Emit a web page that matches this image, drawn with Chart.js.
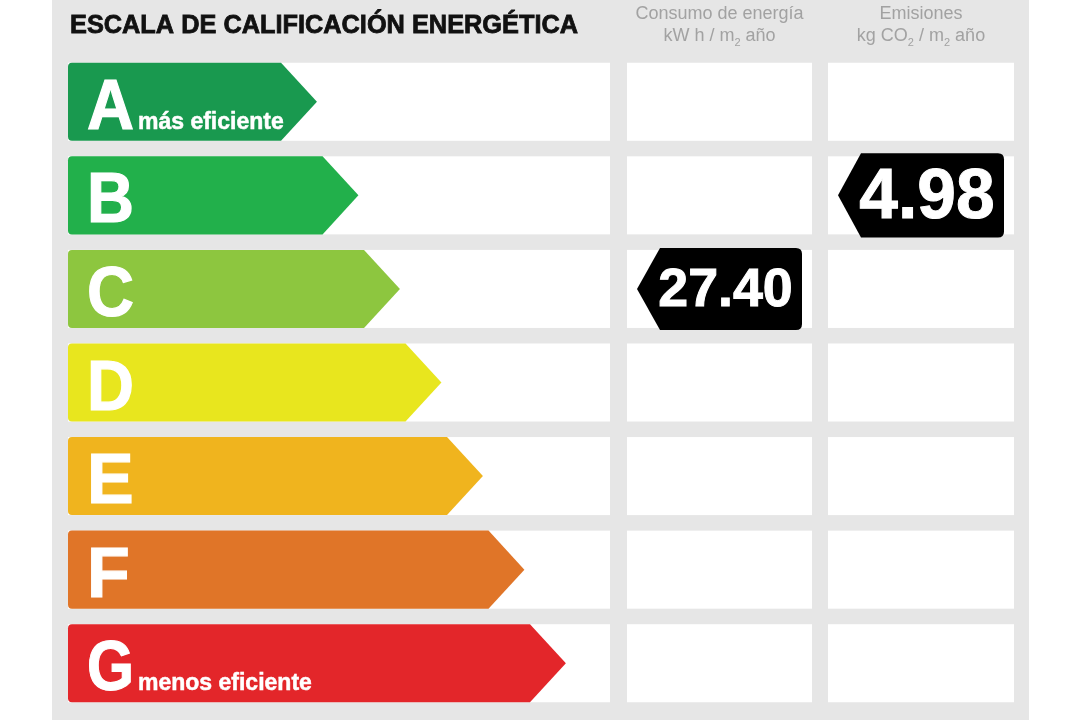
<!DOCTYPE html>
<html>
<head>
<meta charset="utf-8">
<script src="https://cdn.jsdelivr.net/npm/chart.js@4/dist/chart.umd.min.js"></script>
<style>
  html, body { margin: 0; padding: 0; background: #ffffff; }
  #wrap { width: 1082px; height: 720px; position: relative; }
</style>
</head>
<body>
<div id="wrap"><canvas id="c"></canvas></div>
<script>
// ---- data ----
const classes = ['A', 'B', 'C', 'D', 'E', 'F', 'G'];
const arrowLength = [6, 7, 8, 9, 10, 11, 12];          // relative arrow length per class
const classColors = ['#19994f', '#22b04b', '#8dc63f', '#e8e61e', '#f0b41e', '#e07528', '#e3262a'];
const classNotes = ['más eficiente', '', '', '', '', '', 'menos eficiente'];
const title = 'ESCALA DE CALIFICACIÓN ENERGÉTICA';
const consumptionHeader = ['Consumo de energía', ['kW h / m', '2', ' año']];
const emissionsHeader = ['Emisiones', ['kg CO', '2', ' / m', '2', ' año']];
const consumptionValue = '27.40';
const consumptionClass = 'C';
const emissionsValue = '4.98';
const emissionsClass = 'B';

// ---- layout (pixels) ----
const FRAME = { left: 52, right: 1029 };
const COL1 = { left: 68, right: 610 };
const COL2 = { left: 627, right: 812 };
const COL3 = { left: 828, right: 1014 };
const FONT = '"Liberation Sans", Arial, sans-serif';

function drawSubText(ctx, parts, cx, baseline, size, color) {
  ctx.save();
  ctx.fillStyle = color;
  ctx.textBaseline = 'alphabetic';
  ctx.textAlign = 'left';
  const fN = size + 'px ' + FONT;
  const fS = Math.round(size * 0.62) + 'px ' + FONT;
  let total = 0;
  const widths = parts.map((p, i) => {
    ctx.font = (i % 2 === 1) ? fS : fN;
    const w = ctx.measureText(p).width;
    total += w;
    return w;
  });
  let x = cx - total / 2;
  parts.forEach((p, i) => {
    const sub = i % 2 === 1;
    ctx.font = sub ? fS : fN;
    ctx.fillText(p, x, baseline + (sub ? size * 0.3 : 0));
    x += widths[i];
  });
  ctx.restore();
}

function drawTag(ctx, text, col, cy, h) {
  const tip = col.left + 10;
  const right = col.right - 10;
  const depth = 23;
  const top = cy - h / 2, bot = cy + h / 2, r = 6;
  ctx.save();
  ctx.fillStyle = '#000000';
  ctx.beginPath();
  ctx.moveTo(tip + depth, top);
  ctx.lineTo(right - r, top);
  ctx.quadraticCurveTo(right, top, right, top + r);
  ctx.lineTo(right, bot - r);
  ctx.quadraticCurveTo(right, bot, right - r, bot);
  ctx.lineTo(tip + depth, bot);
  ctx.lineTo(tip, cy);
  ctx.closePath();
  ctx.fill();
  const target = (right - tip) * 0.815;
  let size = 70;
  ctx.font = 'bold ' + size + 'px ' + FONT;
  const w = ctx.measureText(text).width;
  if (w > target) { size = size * target / w; }
  ctx.font = 'bold ' + size + 'px ' + FONT;
  ctx.fillStyle = '#ffffff';
  ctx.strokeStyle = '#ffffff';
  ctx.lineWidth = 1;
  ctx.textAlign = 'center';
  ctx.textBaseline = 'alphabetic';
  const tx = (tip + right) / 2 + 6, ty = cy + size * 0.716 / 2 - 2;
  ctx.fillText(text, tx, ty);
  ctx.strokeText(text, tx, ty);
  ctx.restore();
}

const labelPlugin = {
  id: 'energyLabel',
  beforeDraw(chart) {
    const ctx = chart.ctx;
    const meta = chart.getDatasetMeta(0);
    ctx.save();
    ctx.fillStyle = '#e6e6e6';
    ctx.fillRect(FRAME.left, 0, FRAME.right - FRAME.left, chart.height);
    // title
    ctx.fillStyle = '#111111';
    ctx.strokeStyle = '#111111';
    ctx.lineWidth = 0.8;
    ctx.font = 'bold 26px ' + FONT;
    ctx.textBaseline = 'alphabetic';
    ctx.textAlign = 'left';
    ctx.fillText(title, 70, 33, 508);
    ctx.strokeText(title, 70, 33, 508);
    // headers
    const hc = '#a2a2a2';
    ctx.fillStyle = hc;
    ctx.textAlign = 'center';
    ctx.font = '18px ' + FONT;
    ctx.fillText(consumptionHeader[0], (COL2.left + COL2.right) / 2, 19, 182);
    ctx.fillText(emissionsHeader[0], (COL3.left + COL3.right) / 2, 19);
    drawSubText(ctx, consumptionHeader[1], (COL2.left + COL2.right) / 2, 41, 18, hc);
    drawSubText(ctx, emissionsHeader[1], (COL3.left + COL3.right) / 2, 41, 18, hc);
    // row boxes
    ctx.fillStyle = '#ffffff';
    meta.data.forEach((el) => {
      const h = el.height;
      const top = el.y - h / 2;
      [COL1, COL2, COL3].forEach(c => ctx.fillRect(c.left, top, c.right - c.left, h));
    });
    ctx.restore();
  },
  afterDatasetsDraw(chart) {
    const ctx = chart.ctx;
    const xS = chart.scales.x;
    const meta = chart.getDatasetMeta(0);
    ctx.save();
    meta.data.forEach((el, i) => {
      const h = el.height;
      const top = el.y - h / 2, bot = el.y + h / 2;
      const x0 = xS.getPixelForValue(0);
      const tip = el.x;
      const depth = h * 0.46;
      const r = 4;
      ctx.fillStyle = classColors[i];
      ctx.beginPath();
      ctx.moveTo(x0 + r, top);
      ctx.lineTo(tip - depth, top);
      ctx.lineTo(tip, el.y);
      ctx.lineTo(tip - depth, bot);
      ctx.lineTo(x0 + r, bot);
      ctx.quadraticCurveTo(x0, bot, x0, bot - r);
      ctx.lineTo(x0, top + r);
      ctx.quadraticCurveTo(x0, top, x0 + r, top);
      ctx.closePath();
      ctx.fill();
      // letter
      ctx.fillStyle = '#ffffff';
      ctx.strokeStyle = '#ffffff';
      ctx.lineWidth = 1.2;
      ctx.textAlign = 'left';
      ctx.textBaseline = 'alphabetic';
      ctx.font = 'bold 70px ' + FONT;
      const lx = x0 + 19;
      const base = el.y + 27;
      const lw = Math.min(ctx.measureText(classes[i]).width, 47);
      ctx.fillText(classes[i], lx, base, 47);
      ctx.strokeText(classes[i], lx, base, 47);
      if (classNotes[i]) {
        ctx.font = 'bold 23px ' + FONT;
        ctx.lineWidth = 0.5;
        ctx.fillText(classNotes[i], lx + lw + 4, base, 178);
        ctx.strokeText(classNotes[i], lx + lw + 4, base, 178);
      }
    });
    const ci = classes.indexOf(consumptionClass);
    const ei = classes.indexOf(emissionsClass);
    drawTag(ctx, consumptionValue, COL2, meta.data[ci].y, meta.data[ci].height + 4);
    drawTag(ctx, emissionsValue, COL3, meta.data[ei].y, meta.data[ei].height + 6);
    ctx.restore();
  }
};

new Chart(document.getElementById('c'), {
  type: 'bar',
  data: {
    labels: classes,
    datasets: [{
      data: arrowLength,
      backgroundColor: 'rgba(0,0,0,0)',
      borderWidth: 0,
      categoryPercentage: 1,
      barPercentage: 0.834
    }]
  },
  options: {
    indexAxis: 'y',
    responsive: true,
    maintainAspectRatio: false,
    animation: false,
    layout: { padding: { left: 68, right: 68, top: 55, bottom: 10 } },
    scales: {
      x: { display: false, min: 0, max: 22.8 },
      y: { display: false }
    },
    plugins: { legend: { display: false }, tooltip: { enabled: false } }
  },
  plugins: [labelPlugin]
});
</script>
</body>
</html>
